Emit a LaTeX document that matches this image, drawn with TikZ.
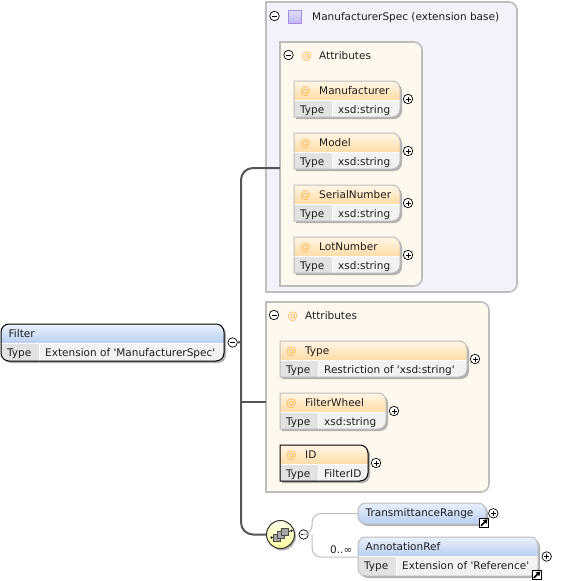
\documentclass[tikz,border=0pt]{standalone}
\usepackage{fontspec}
\setmainfont{DejaVu Sans}
\usetikzlibrary{positioning,arrows.meta,calc}

\definecolor{inkc}{HTML}{1E1E1E}
\definecolor{framec}{HTML}{BDBDBD}
\definecolor{shadowc}{HTML}{B0B0B0}
\definecolor{specc}{HTML}{F3F1FA}
\definecolor{attrc}{HTML}{FFF8EE}
\definecolor{orangec}{HTML}{FFB347}
\definecolor{orangetop}{HTML}{FFF6E6}
\definecolor{orangebot}{HTML}{FFDCA6}
\definecolor{bluetop}{HTML}{EAF1FC}
\definecolor{bluebot}{HTML}{B9CEF1}
\definecolor{typecell}{HTML}{E2E2E2}
\definecolor{valuecell}{HTML}{F2F2F2}
\definecolor{trunkc}{HTML}{555555}

\tikzset{
  x=1pt, y=-1pt,
  slot/.style={rectangle, inner sep=0pt, outer sep=0pt, anchor=north west},
  txt/.style={inner sep=0pt, anchor=west, text height=11pt, text depth=2.2pt, font=\fontsize{10.5}{12}\selectfont, text=inkc},
  atsign/.style={txt, text=orangec},
  minustoggle/.style={circle, draw=black, fill=white, line width=0.7pt, minimum size=9.5pt, inner sep=0pt,
    path picture={\draw[line width=0.7pt] ([xshift=-2.5pt]path picture bounding box.center) -- ([xshift=2.5pt]path picture bounding box.center);}},
  plustoggle/.style={minustoggle,
    path picture={\draw[line width=0.7pt] ([xshift=-2.5pt]path picture bounding box.center) -- ([xshift=2.5pt]path picture bounding box.center);
      \draw[line width=0.7pt] ([yshift=-2.5pt]path picture bounding box.center) -- ([yshift=2.5pt]path picture bounding box.center);}},
  reflink/.style={rectangle, draw=black, fill=white, line width=1pt, minimum size=9pt, inner sep=0pt,
    path picture={\draw[line width=1.6pt, -{Triangle[length=4pt,width=5pt]}]
      ([shift={(-3pt,-3pt)}]path picture bounding box.center) -- ([shift={(3.5pt,3.5pt)}]path picture bounding box.center);}},
  trunk/.style={draw=trunkc, line width=2pt},
  thinlink/.style={draw=framec, line width=1pt, rounded corners=9pt},
  cube/.style={rectangle, draw=black!70, fill=black!35, line width=0.6pt, minimum size=6.5pt, inner sep=0pt},
  bead/.style={circle, fill=black, minimum size=2.5pt, inner sep=0pt},
}

% outline with a square left side and a round right side
\newcommand{\sharpleft}[2]{(#1.north west) [rounded corners=#2pt] -- (#1.north east) -- (#1.south east) [sharp corners] -- (#1.south west) -- cycle}
\newcommand{\shiftedleft}[2]{([shift={(2,2)}]#1.north west) [rounded corners=#2pt] -- ([shift={(2,2)}]#1.north east) -- ([shift={(2,2)}]#1.south east) [sharp corners] -- ([shift={(2,2)}]#1.south west) -- cycle}

% group panel: id, x, y, width, height, fill
\newcommand{\panel}[6]{
  \node[slot, minimum width=#4pt, minimum height=#5pt] (#1) at (#2,#3) {};
  \draw[draw=framec, line width=1.6pt, fill=#6] \sharpleft{#1}{8};
}
% attribute box: id, x, y, width, type cell width, name, type, frame colour
\newcommand{\attrbox}[8]{
  \node[slot, minimum width=#4pt, minimum height=36pt] (#1) at (#2,#3) {};
  \fill[shadowc] \shiftedleft{#1}{8};
  \begin{scope}
    \clip \sharpleft{#1}{8};
    \fill[valuecell] (#1.north west) rectangle (#1.south east);
    \fill[top color=orangetop, bottom color=orangebot] (#1.north west) rectangle ($(#1.north east)+(0,19)$);
    \fill[typecell] ($(#1.north west)+(0,19)$) rectangle ($(#1.south west)+(#5,0)$);
    \draw[white, line width=1pt] ($(#1.north west)+(#5,19)$) -- ($(#1.south west)+(#5,0)$);
    \draw[white, line width=1pt] ($(#1.north west)+(0,19)$) -- ($(#1.north east)+(0,19)$);
  \end{scope}
  \draw[draw=#8, line width=1pt] \sharpleft{#1}{8};
  \node[atsign] (#1at) at ($(#1.north west)+(6,9.5)$) {@};
  \node[txt] (#1name) at ($(#1.north west)+(25,9.5)$) {#6};
  \node[txt] (#1key) at ($(#1.north west)+(6,27.6)$) {Type};
  \node[txt] (#1val) at ($(#1.north west)+(#5+6,27.6)$) {#7};
  \node[plustoggle] (#1plus) at ($(#1.east)+(8,0)$) {};
}
% element box: id, x, y, width, height, name, header height
\newcommand{\elembox}[7]{
  \node[slot, minimum width=#4pt, minimum height=#5pt, rounded corners=8pt] (#1) at (#2,#3) {};
  \fill[shadowc, rounded corners=8pt] ($(#1.north west)+(2,2)$) rectangle ($(#1.south east)+(2,2)$);
  \begin{scope}
    \clip[rounded corners=8pt] (#1.north west) rectangle (#1.south east);
    \fill[valuecell] (#1.north west) rectangle (#1.south east);
    \fill[top color=bluetop, bottom color=bluebot] (#1.north west) rectangle ($(#1.north east)+(0,#7)$);
  \end{scope}
  \node[txt] (#1name) at ($(#1.north west)+(7.5,9.5)$) {#6};
}
% type row of an element box: id, type cell width, type
\newcommand{\elemtype}[3]{
  \begin{scope}
    \clip[rounded corners=8pt] (#1.north west) rectangle (#1.south east);
    \fill[typecell] ($(#1.north west)+(0,19.5)$) rectangle ($(#1.south west)+(#2,0)$);
    \draw[white, line width=1pt] ($(#1.north west)+(#2,19.5)$) -- ($(#1.south west)+(#2,0)$);
    \draw[white, line width=1pt] ($(#1.north west)+(0,19.5)$) -- ($(#1.north east)+(0,19.5)$);
  \end{scope}
  \node[txt] (#1key) at ($(#1.north west)+(6,28)$) {Type};
  \node[txt] (#1val) at ($(#1.north west)+(#2+6,28)$) {#3};
}

\begin{document}
\begin{tikzpicture}
  \useasboundingbox (0,0) rectangle (570,581);

  % base type panel
  \panel{spec}{266}{2}{251}{290}{specc}
  \node[minustoggle] (specminus) at (274.5,16) {};
  \node[rectangle, draw=violet!45!blue!45, top color=violet!8!blue!12, bottom color=violet!25!blue!28, line width=1pt, minimum size=13pt, inner sep=0pt] (specicon) at (295,16.5) {};
  \node[txt] (spectitle) at (312,16) {ManufacturerSpec (extension base)};
  \shade[left color=specc, middle color=black!22, right color=specc] (268,30) rectangle (457,32);

  \panel{attrsa}{280}{42}{142}{244}{attrc}
  \node[minustoggle] (attrsaminus) at (288.5,55) {};
  \node[atsign] (attrsaat) at (301.5,55) {@};
  \node[txt] (attrsatitle) at (319,55) {Attributes};
  \shade[left color=attrc, middle color=black!22, right color=attrc] (285,68) rectangle (388,70);

  \attrbox{manuf}{294}{81}{106}{38}{Manufacturer}{xsd:string}{framec}
  \attrbox{model}{294}{133}{106}{38}{Model}{xsd:string}{framec}
  \attrbox{serial}{294}{185}{106}{38}{SerialNumber}{xsd:string}{framec}
  \attrbox{lot}{294}{237}{106}{38}{LotNumber}{xsd:string}{framec}

  % own attributes
  \panel{attrsb}{266}{302}{223}{190}{attrc}
  \node[minustoggle] (attrsbminus) at (274,315) {};
  \node[atsign] (attrsbat) at (287.5,315) {@};
  \node[txt] (attrsbtitle) at (305,315) {Attributes};
  \shade[left color=attrc, middle color=black!22, right color=attrc] (268,328) rectangle (437,330);

  \attrbox{typeattr}{280}{341}{187}{38}{Type}{Restriction of \textquotesingle xsd:string\textquotesingle}{framec}
  \attrbox{wheel}{280}{393}{106}{38}{FilterWheel}{xsd:string}{framec}
  \attrbox{idattr}{280}{445}{88}{38}{ID}{FilterID}{black}

  % root element
  \elembox{filter}{1}{324}{223}{37}{Filter}{19.5}
  \elemtype{filter}{38}{Extension of \textquotesingle ManufacturerSpec\textquotesingle}
  \draw[black, line width=1pt, rounded corners=8pt] (filter.north west) rectangle (filter.south east);
  \node[minustoggle, right=3.5pt of filter.east] (filterminus) {};

  % sequence
  \fill[shadowc] (282,536.5) circle (14pt);
  \node[circle, draw=black!80, top color=yellow!8, bottom color=yellow!38, line width=1pt, minimum size=28pt, inner sep=0pt] (seq) at (280.5,534.5) {};
  \node[bead] (beada) at (271.7,537.5) {};
  \node[bead] (beadb) at (291.5,530.7) {};
  \draw[black, line width=0.8pt] (beada) -- (beadb);
  \node[cube] (cubea) at (276.7,537.7) {};
  \node[cube] (cubeb) at (280.7,535) {};
  \node[cube] (cubec) at (284.7,531.7) {};
  \node[minustoggle, right=3.5pt of seq.east] (seqminus) {};

  \coordinate (seqfork) at (312,534.5);
  \node[txt] (occurs) at (330,549) {0..∞};

  \elembox{range}{358}{503}{128}{21}{TransmittanceRange}{21}
  \draw[framec, line width=1pt, rounded corners=8pt] (range.north west) rectangle (range.south east);
  \node[plustoggle] (rangeplus) at ($(range.east)+(7.3,-0.2)$) {};
  \node[reflink] (rangeref) at (484,522.7) {};

  \elembox{annot}{358}{537}{180}{39}{AnnotationRef}{19.5}
  \elemtype{annot}{38}{Extension of \textquotesingle Reference\textquotesingle}
  \draw[framec, line width=1pt, rounded corners=8pt] (annot.north west) rectangle (annot.south east);
  \node[plustoggle] (annotplus) at ($(annot.east)+(8.7,0)$) {};
  \node[reflink] (annotref) at (536.8,575) {};

  % connectors
  \coordinate (trunkjoint) at (241,342);
  \coordinate (specport) at ([yshift=-4pt]attrsa.west);
  \coordinate (ownport) at ([yshift=-5pt]attrsb.west);
  \draw[trunk] (filterminus.east) -- (trunkjoint);
  \draw[trunk, rounded corners=12pt] (specport) -| (trunkjoint);
  \draw[trunk, rounded corners=12pt] (trunkjoint) |- (seq.west);
  \draw[trunk] (trunkjoint |- ownport) -- (ownport);
  \draw[thinlink] (seqminus.east) -- (seqfork) |- (range.west);
  \draw[thinlink] (seqfork) |- ([yshift=-0.5pt]annot.west);
\end{tikzpicture}
\end{document}
